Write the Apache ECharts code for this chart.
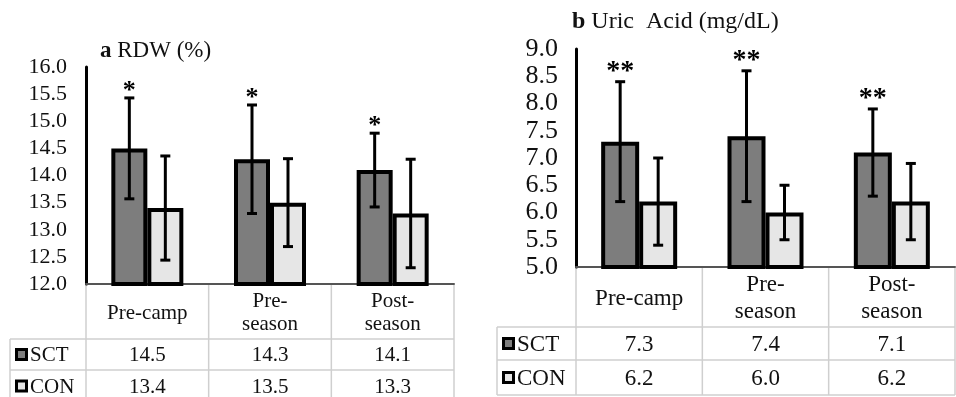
<!DOCTYPE html>
<html><head><meta charset="utf-8">
<script src="https://cdn.jsdelivr.net/npm/echarts@6/dist/echarts.min.js"></script>
<style>html,body{margin:0;padding:0;background:#fff}#c{width:956px;height:397px}</style>
</head><body><div id="c"></div>
<script>
// ---------- data ----------
const categories = ['Pre-camp', 'Pre-\nseason', 'Post-\nseason'];
const seriesNames = ['SCT', 'CON'];
const rdwSCT = [14.5, 14.3, 14.1];
const rdwCON = [13.4, 13.5, 13.3];
const rdwSCTsd = [0.93, 1.0, 0.68];
const rdwCONsd = [0.96, 0.81, 1.0];
const rdwSig = ['*', '*', '*'];
const uaSCT = [7.3, 7.4, 7.1];
const uaCON = [6.2, 6.0, 6.2];
const uaSCTsd = [1.1, 1.2, 0.8];
const uaCONsd = [0.8, 0.5, 0.7];
const uaSig = ['**', '**', '**'];
const rdwAxis = { min: 12, max: 16, interval: 0.5 };
const uaAxis = { min: 5, max: 9, interval: 0.5 };
const titleA = ['a', 'RDW (%)'];
const titleB = ['b', 'Uric  Acid (mg/dL)'];

// ---------- style ----------
const FONT = "'Liberation Serif','Times New Roman',serif";
const SCT_FILL = '#7d7d7d', CON_FILL = '#e6e6e6';
const cfg = [
  { grid: { left: 86, top: 67, width: 368, height: 217 }, barW: 36, yFont: 22, yMargin: 19, tFont: 21,
    table: { top: 285, head: 339, r1: 370, r2: 402, leftX: 10, lh: 23 }, sigFont: 26, sigOff: -6,
    title: { x: 100, y: 51, size: 23 } },
  { grid: { left: 576, top: 49, width: 379, height: 218 }, barW: 38, yFont: 26, yMargin: 18, tFont: 23,
    table: { top: 268, head: 327, r1: 360, r2: 395, leftX: 497, lh: 27 }, sigFont: 28, sigOff: -4,
    title: { x: 572, y: 22, size: 24 } }
];

const chart = echarts.init(document.getElementById('c'));

function yAxisOf(ax, i) {
  return {
    type: 'value', gridIndex: i, min: ax.min, max: ax.max, interval: ax.interval,
    axisLine: { show: true, lineStyle: { color: '#000', width: 3 } },
    axisTick: { show: false }, splitLine: { show: false },
    axisLabel: { fontFamily: FONT, fontSize: cfg[i].yFont, color: '#111', margin: cfg[i].yMargin,
      formatter: v => v.toFixed(1) }
  };
}
function xAxisOf(i) {
  return {
    type: 'category', gridIndex: i, data: categories,
    axisLine: { show: true, lineStyle: { color: '#555', width: 2 } },
    axisTick: { show: false }, axisLabel: { show: false }, splitLine: { show: false }
  };
}
function barOf(i, name, data, fill) {
  return {
    type: 'bar', name, xAxisIndex: i, yAxisIndex: i, data, barWidth: cfg[i].barW, barGap: '0%',
    itemStyle: { color: fill, borderColor: '#000', borderWidth: 4 }, z: 2, silent: true
  };
}
function errOf(i, means, sds, offset, sig) {
  return {
    type: 'custom', xAxisIndex: i, yAxisIndex: i, z: 10, silent: true,
    data: means.map((m, k) => [k, m - sds[k], m + sds[k]]),
    renderItem(params, api) {
      const k = api.value(0);
      const lo = api.coord([k, api.value(1)]);
      const hi = api.coord([k, api.value(2)]);
      const x = lo[0] + offset;
      const st = { stroke: '#000', lineWidth: 3 };
      const ch = [
        { type: 'line', shape: { x1: x, y1: lo[1], x2: x, y2: hi[1] }, style: st },
        { type: 'line', shape: { x1: x - 5, y1: lo[1], x2: x + 5, y2: lo[1] }, style: st },
        { type: 'line', shape: { x1: x - 5, y1: hi[1], x2: x + 5, y2: hi[1] }, style: st }
      ];
      if (sig) ch.push({ type: 'text', x: x, y: hi[1] - cfg[i].sigOff,
        style: { text: sig[k], fontFamily: FONT, fontSize: cfg[i].sigFont, fontWeight: 'bold',
          fill: '#000', align: 'center', verticalAlign: 'bottom' } });
      return { type: 'group', children: ch };
    }
  };
}

chart.setOption({
  animation: false,
  grid: cfg.map(c => Object.assign({ containLabel: false }, c.grid)),
  xAxis: [xAxisOf(0), xAxisOf(1)],
  yAxis: [yAxisOf(rdwAxis, 0), yAxisOf(uaAxis, 1)],
  series: [
    barOf(0, seriesNames[0], rdwSCT, SCT_FILL), barOf(0, seriesNames[1], rdwCON, CON_FILL),
    errOf(0, rdwSCT, rdwSCTsd, -cfg[0].barW / 2, rdwSig), errOf(0, rdwCON, rdwCONsd, cfg[0].barW / 2, null),
    barOf(1, seriesNames[0], uaSCT, SCT_FILL), barOf(1, seriesNames[1], uaCON, CON_FILL),
    errOf(1, uaSCT, uaSCTsd, -cfg[1].barW / 2, uaSig), errOf(1, uaCON, uaCONsd, cfg[1].barW / 2, null)
  ]
});

// ---------- data tables + titles ----------
const graphics = [];
const LINE = '#cfcfcf';
function hline(x1, x2, y, color, w) {
  graphics.push({ type: 'line', shape: { x1, y1: y, x2, y2: y }, style: { stroke: color || LINE, lineWidth: w || 1.5 }, silent: true });
}
function vline(x, y1, y2) {
  graphics.push({ type: 'line', shape: { x1: x, y1, x2: x, y2 }, style: { stroke: LINE, lineWidth: 1.5 }, silent: true });
}
function txt(x, y, s, size, align, extra) {
  graphics.push(Object.assign({ type: 'text', x, y, silent: true,
    style: { text: s, fontFamily: FONT, fontSize: size, fill: '#111', align: align || 'center', verticalAlign: 'middle' } }, extra || {}));
}
const tables = [
  { sct: rdwSCT, con: rdwCON, title: titleA },
  { sct: uaSCT, con: uaCON, title: titleB }
];
tables.forEach((tb, i) => {
  const c = cfg[i], t = c.table;
  const centers = categories.map((_, k) => chart.convertToPixel({ xAxisIndex: i }, k));
  const half = (centers[1] - centers[0]) / 2;
  const edges = [centers[0] - half].concat(centers.map(x => x + half));
  const R = edges[edges.length - 1];
  edges.forEach(x => vline(x, t.top, t.r2));
  vline(t.leftX, t.head, t.r2);
  hline(t.leftX, R, t.head); hline(t.leftX, R, t.r1); hline(t.leftX, R, t.r2);
  categories.forEach((cat, k) => {
    graphics.push({ type: 'text', x: centers[k], y: (t.top + t.head) / 2 + 1, silent: true,
      style: { text: cat, fontFamily: FONT, fontSize: c.tFont, fill: '#111', align: 'center', verticalAlign: 'middle', lineHeight: t.lh } });
    txt(centers[k], (t.head + t.r1) / 2 + 1, tb.sct[k].toFixed(1), c.tFont);
    txt(centers[k], (t.r1 + t.r2) / 2 + 1, tb.con[k].toFixed(1), c.tFont);
  });
  [[t.head, t.r1, SCT_FILL, seriesNames[0]], [t.r1, t.r2, CON_FILL, seriesNames[1]]].forEach(([a, b, fill, nm]) => {
    const cy = (a + b) / 2;
    graphics.push({ type: 'rect', shape: { x: t.leftX + 6.5, y: cy - 5, width: 10, height: 10 },
      style: { fill, stroke: '#000', lineWidth: 3 }, silent: true });
    txt(t.leftX + 20, cy + 1, nm, c.tFont, 'left');
  });
  graphics.push({ type: 'text', x: c.title.x, y: c.title.y, silent: true,
    style: { text: '{b|' + tb.title[0] + '} ' + tb.title[1], fontFamily: FONT, fontSize: c.title.size, fill: '#111',
      verticalAlign: 'middle', rich: { b: { fontWeight: 'bold', fontFamily: FONT, fontSize: c.title.size, fill: '#111' } } } });
});
chart.setOption({ graphic: graphics });
</script>
</body></html>
